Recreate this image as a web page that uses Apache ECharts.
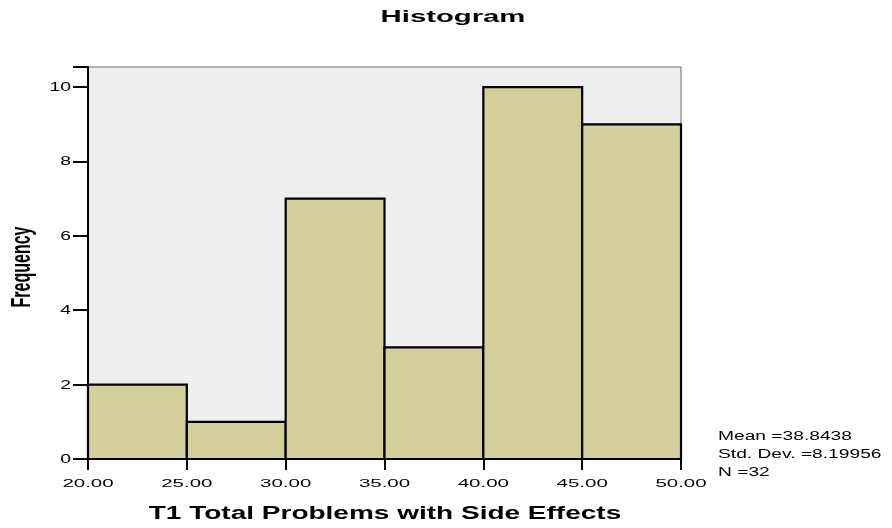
<!DOCTYPE html>
<html><head><meta charset="utf-8">
<script src="https://cdn.jsdelivr.net/npm/echarts@6/dist/echarts.min.js"></script>
<style>html,body{margin:0;padding:0;background:#fff}#c{width:892px;height:528px}</style>
</head><body><div id="c"></div>
<script>
const binStarts = [20, 25, 30, 35, 40, 45];
const binEnds = [25, 30, 35, 40, 45, 50];
const frequencies = [2, 1, 7, 3, 10, 9];
const xTicks = [20, 25, 30, 35, 40, 45, 50];
const yTicks = [0, 2, 4, 6, 8, 10];
const statsLines = ['Mean =38.8438', 'Std. Dev. =8.19956', 'N =32'];
const titleText = 'Histogram';
const xName = 'T1 Total Problems with Side Effects';
const yName = 'Frequency';

const FONT = '"Liberation Sans", Arial, sans-serif';
const data = binStarts.map((s, i) => [s, binEnds[i], frequencies[i]]);
const chart = echarts.init(document.getElementById('c'), null, {renderer: 'canvas'});
chart.setOption({
  animation: false,
  grid: {left: 88, right: 211, top: 67, bottom: 69, show: true, backgroundColor: '#efefef', borderColor: '#6a6a6a', borderWidth: 1},
  xAxis: {
    type: 'value', min: 20, max: 50, interval: 5,
    axisLine: {show: true, lineStyle: {color: '#000', width: 2}},
    axisTick: {show: true, length: 11, lineStyle: {color: '#000', width: 2}},
    axisLabel: {show: false},
    splitLine: {show: false}
  },
  yAxis: {
    type: 'value', min: 0, max: 10.54, interval: 2,
    axisLine: {show: true, lineStyle: {color: '#000', width: 2}},
    axisTick: {show: true, length: 15, lineStyle: {color: '#000', width: 2}},
    axisLabel: {show: false},
    splitLine: {show: false}
  },
  series: [{
    type: 'custom',
    data: data,
    renderItem: function (params, api) {
      const p0 = api.coord([api.value(0), 0]);
      const p1 = api.coord([api.value(1), api.value(2)]);
      return {
        type: 'rect',
        shape: {x: p0[0], y: p1[1], width: p1[0] - p0[0], height: p0[1] - p1[1]},
        style: {fill: '#d3cf98', stroke: '#000', lineWidth: 2.2}
      };
    },
    encode: {x: [0, 1], y: 2}
  }]
});

const txt = (text, x, y, opts) => Object.assign({
  type: 'text', x: x, y: y, silent: true,
  style: Object.assign({text: text, fill: '#000', textAlign: 'center', textVerticalAlign: 'middle', font: '11.5px ' + FONT}, opts.style || {})
}, opts.el || {});

const graphics = [];
xTicks.forEach(v => {
  const p = chart.convertToPixel({gridIndex: 0}, [v, 0]);
  graphics.push(txt(v.toFixed(2), p[0], 484, {el: {scaleX: 1.78}}));
});
yTicks.forEach(v => {
  const p = chart.convertToPixel({gridIndex: 0}, [20, v]);
  graphics.push(txt(String(v), 71, p[1] + 0.5, {el: {scaleX: 1.55}, style: {textAlign: 'right', font: '12.5px ' + FONT}}));
});
graphics.push(txt(titleText, 453, 17.5, {el: {scaleX: 1.83}, style: {font: 'bold 16px ' + FONT}}));
graphics.push(txt(xName, 385, 514, {el: {scaleX: 1.6}, style: {font: 'bold 17.5px ' + FONT}}));
graphics.push(txt(yName, 22, 267, {el: {rotation: Math.PI / 2, scaleX: 1.0, scaleY: 1.75}, style: {font: 'bold 16px ' + FONT}}));
statsLines.forEach((s, i) => {
  graphics.push(txt(s, 718, 436.5 + i * 18.3, {el: {scaleX: 1.6}, style: {textAlign: 'left', font: '12px ' + FONT}}));
});
chart.setOption({graphic: graphics});
</script></body></html>
